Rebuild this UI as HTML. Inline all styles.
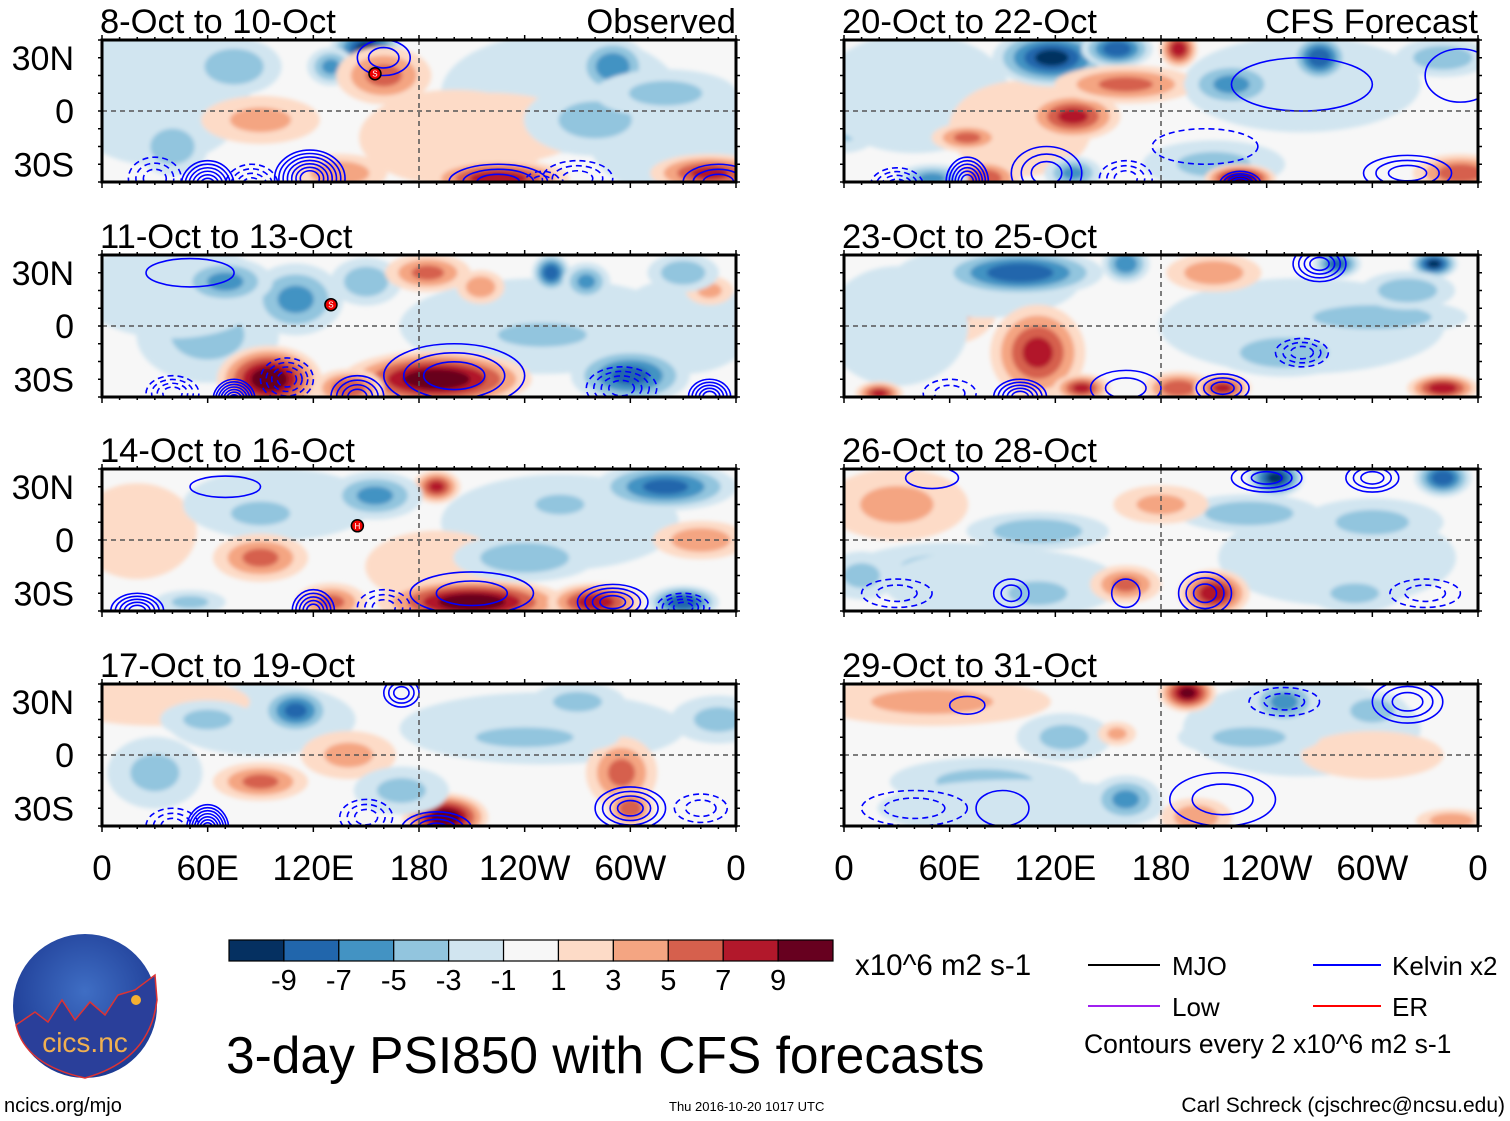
<!DOCTYPE html>
<html><head><meta charset="utf-8"><style>
html,body{margin:0;padding:0;background:#fff;}
svg{display:block;font-family:"Liberation Sans",Arial,sans-serif;}
</style></head><body>
<svg id="fig" width="1510" height="1121" viewBox="0 0 1510 1121">
<defs>
<filter id="bl" x="-20%" y="-20%" width="140%" height="140%"><feGaussianBlur stdDeviation="2"/></filter>
<radialGradient id="lg" cx="50%" cy="40%" r="60%"><stop offset="0" stop-color="#3f6ec4"/><stop offset="1" stop-color="#1d3a93"/></radialGradient>
</defs>
<g id="panels"></g>
<g id="colorbar"></g>
<text x="855" y="975" font-size="29.5">x10^6 m2 s-1</text>
<g>
<line x1="1088" y1="965" x2="1160" y2="965" stroke="#000" stroke-width="2"/>
<text x="1172" y="975" font-size="26">MJO</text>
<line x1="1313" y1="965" x2="1381" y2="965" stroke="#0000ff" stroke-width="2"/>
<text x="1392" y="975" font-size="26">Kelvin x2</text>
<line x1="1088" y1="1006" x2="1160" y2="1006" stroke="#a020f0" stroke-width="2"/>
<text x="1172" y="1016" font-size="26">Low</text>
<line x1="1313" y1="1006" x2="1381" y2="1006" stroke="#ff0000" stroke-width="2"/>
<text x="1392" y="1016" font-size="26">ER</text>
<text x="1084" y="1053" font-size="26.5">Contours every 2 x10^6 m2 s-1</text>
</g>
<text x="226" y="1073" font-size="51.5">3-day PSI850 with CFS forecasts</text>
<text x="4" y="1112" font-size="20">ncics.org/mjo</text>
<text x="669" y="1111" font-size="13">Thu 2016-10-20 1017 UTC</text>
<text x="1505" y="1112" font-size="21" text-anchor="end">Carl Schreck (cjschrec@ncsu.edu)</text>
<g>
<circle cx="85" cy="1006" r="72" fill="url(#lg)"/>
<path d="M16,1025 L35,1012 L48,1022 L62,1000 L75,1020 L90,1002 L105,1015 L118,995 L135,990 L155,975 L157,1000 Q150,1060 85,1078 Q25,1065 16,1025Z" fill="#2a3f9a" stroke="#d33" stroke-width="1.5"/>
<circle cx="136" cy="1000" r="5" fill="#f5b030"/>
<text x="85" y="1052" font-size="28" fill="#f0b050" text-anchor="middle">cics.nc</text>
</g>
</svg>
<script>
const panelTitles=["8-Oct to 10-Oct","11-Oct to 13-Oct","14-Oct to 16-Oct","17-Oct to 19-Oct","20-Oct to 22-Oct","23-Oct to 25-Oct","26-Oct to 28-Oct","29-Oct to 31-Oct"];
const lonTicks=[0,60,120,180,240,300,360];
const lonLabels=["0","60E","120E","180","120W","60W","0"];
const latTicks=[30,0,-30];
const latLabels=["30N","0","30S"];
const cbLevels=[-9,-7,-5,-3,-1,1,3,5,7,9];
const cbColors=["#053061","#2166ac","#4393c3","#92c5de","#d1e5f0","#f7f7f7","#fddbc7","#f4a582","#d6604d","#b2182b","#67001f"];
// anomaly centres: [lon, lat, value, lonSpread, latSpread]
const blobs0=[[30,10,-2,40,30],[260,10,-2,50,25],[330,-15,-2,40,25],[200,-15,2,40,20],[20,0,-2,30,20],[150,35,-9,15,10],[75,25,-4,20,12],[290,25,-6,15,12],[130,25,-5,10,8],[160,20,5,20,12],[90,-5,3,25,10],[40,-20,-4,15,12],[220,-10,2,40,15],[225,-38,8,30,8],[345,-35,7,25,8],[280,-5,-3,30,15],[320,10,-3,30,10],[135,-35,4,20,8]];
const blobs1=[[60,-5,-3,30,20],[40,20,-2,40,20],[250,0,-2,60,20],[330,0,-2,30,20],[95,-30,10,22,14],[190,-30,10,40,12],[140,-35,6,15,8],[110,15,-5,20,15],[70,25,-5,20,10],[150,25,-4,15,10],[185,30,5,18,8],[215,22,4,10,7],[255,30,-8,8,8],[275,25,-5,10,8],[345,20,3,10,6],[300,-28,-7,25,12],[250,-5,-4,30,8],[330,30,-4,15,8]];
const blobs2=[[20,5,2,25,20],[100,20,-2,40,15],[260,10,-2,50,20],[190,-15,2,30,15],[190,30,7,10,7],[155,25,-5,20,10],[90,-10,5,20,10],[90,15,-4,20,8],[210,-35,10,40,10],[280,-35,8,20,8],[130,-35,5,15,8],[330,-35,-8,15,7],[320,30,-7,30,10],[240,-10,-4,30,10],[340,0,4,20,8],[260,20,-3,20,8],[50,-35,-3,15,5]];
const blobs3=[[30,-10,-3,20,15],[90,20,-2,40,15],[250,15,-2,60,15],[30,30,2,40,10],[110,25,-7,15,10],[90,-15,5,20,8],[195,-35,10,18,10],[295,-10,5,15,15],[300,-30,6,10,8],[140,0,3,20,10],[240,10,-3,40,8],[350,20,-3,20,10],[60,20,-3,20,8],[170,-20,-3,20,10],[270,30,-3,20,8]];
const blobs4=[[0,-10,-3,15,10],[40,10,-2,40,25],[260,15,-2,50,20],[100,-10,2,30,20],[118,30,-9,25,12],[155,35,-8,15,8],[130,-3,7,20,10],[160,15,5,30,8],[70,-15,5,15,6],[190,35,8,8,8],[270,30,-8,12,10],[220,15,-5,20,10],[210,-30,-3,30,10],[225,-38,10,15,6],[130,-35,-5,12,7],[80,-38,6,15,8],[50,-38,-5,15,6],[350,-35,6,20,8],[340,30,-4,20,8]];
const blobs5=[[60,10,3,20,15],[30,0,-2,30,25],[80,25,-2,40,15],[260,0,-2,60,20],[100,30,-8,35,10],[160,35,-6,10,8],[110,-15,7,20,20],[135,-35,7,12,6],[190,-35,6,15,7],[215,-35,7,12,6],[280,35,-7,10,6],[335,35,-9,10,6],[300,5,-4,40,8],[250,-15,-4,30,10],[340,-35,8,15,6],[20,-38,7,10,5],[210,30,4,20,8],[320,20,-4,20,8]];
const blobs6=[[30,20,3,30,15],[60,-15,-3,40,10],[90,-25,-2,50,15],[280,-10,-2,50,20],[245,35,-9,12,8],[340,35,-8,12,8],[210,-30,8,15,10],[160,-25,5,15,8],[230,15,-4,30,8],[110,5,-4,30,8],[110,-30,-4,20,8],[300,10,-3,30,10],[180,20,3,20,8],[290,-30,-3,20,8],[10,-20,-3,15,10]];
const blobs7=[[50,30,3,50,10],[80,-15,-3,40,10],[100,-30,-2,60,12],[260,15,-2,50,20],[195,35,9,12,8],[250,30,-5,15,10],[300,25,-4,15,8],[160,-25,-5,15,10],[125,10,-3,20,10],[155,12,3,8,5],[200,-35,4,15,8],[345,-37,4,15,5],[300,0,2,30,10],[230,10,-3,30,8]];
const allBlobs=[blobs0,blobs1,blobs2,blobs3,blobs4,blobs5,blobs6,blobs7];
// Kelvin contours: [lon, lat, rings, dashed, lonRadius, latRadius]
const kel0=[[118,-38,7,0,20,16],[60,-42,6,0,15,14],[85,-42,4,1,15,12],[30,-38,3,1,15,12],[225,-40,3,0,28,10],[350,-40,3,0,20,10],[270,-38,3,1,20,10],[160,30,2,0,15,10],[250,-40,2,1,10,6]];
const kel1=[[75,-42,7,0,12,12],[145,-40,4,0,15,12],[200,-28,3,0,40,18],[295,-35,4,1,20,12],[345,-40,5,0,12,10],[40,-38,4,1,15,10],[105,-30,4,1,15,12],[50,30,1,0,25,8]];
const kel2=[[20,-40,5,0,15,10],[120,-40,5,0,12,12],[210,-30,2,0,35,12],[290,-35,4,0,20,10],[330,-38,4,1,15,8],[160,-38,3,1,15,10],[70,30,1,0,20,6]];
const kel3=[[60,-42,7,0,12,14],[190,-42,4,0,20,10],[300,-30,4,0,20,12],[150,-35,3,1,15,10],[40,-40,3,1,15,10],[170,35,3,0,10,8],[340,-30,2,1,15,8]];
const kel4=[[70,-40,6,0,12,14],[30,-42,4,1,15,10],[115,-35,3,0,20,15],[160,-38,3,1,15,10],[225,-42,5,0,12,8],[205,-20,1,1,30,10],[320,-35,3,0,25,10],[350,20,1,0,20,15],[260,15,1,0,40,15]];
const kel5=[[100,-40,5,0,15,10],[160,-35,2,0,20,10],[215,-35,3,0,15,8],[260,-15,3,1,15,8],[270,35,4,0,15,10],[60,-38,2,1,15,8]];
const kel6=[[205,-30,3,0,15,12],[95,-30,2,0,10,8],[160,-30,1,0,8,8],[240,35,3,0,20,8],[300,35,3,0,15,8],[330,-30,2,1,20,8],[30,-30,2,1,20,8],[50,35,1,0,15,6]];
const kel7=[[90,-30,1,0,15,10],[40,-30,2,1,30,10],[215,-25,2,0,30,15],[320,30,3,0,20,12],[250,30,2,1,20,8],[70,28,1,0,10,5]];
const allKel=[kel0,kel1,kel2,kel3,kel4,kel5,kel6,kel7];
// tropical cyclone symbols: [panel, lon, lat, label]
const storms=[[0,155,21,"S"],[1,130,12,"S"],[2,145,8,"H"]];

const NS="http://www.w3.org/2000/svg";
const panelsG=document.getElementById('panels');
const colX=[102,844], rowY=[40,255,469,684], PW=634, PH=142;
function mk(tag,attrs,parent){const e=document.createElementNS(NS,tag);for(const k in attrs)e.setAttribute(k,attrs[k]);parent.appendChild(e);return e;}
function colorFor(v){let i=0;while(i<cbLevels.length&&v>cbLevels[i])i++;return cbColors[i];}

for(let p=0;p<8;p++){
  const x0=colX[p<4?0:1], y0=rowY[p%4];
  const xs=lon=>x0+lon/360*PW;
  const ys=lat=>y0+PH/2-lat*(PH/2)/40;
  const sx=PW/360*1.35, sy=(PH/2)/40*1.35;
  const g=mk('g',{},panelsG);
  
  
  const cp=mk('clipPath',{id:'cp'+p},g);
  mk('rect',{x:x0,y:y0,width:PW,height:PH},cp);
  mk('rect',{x:x0,y:y0,width:PW,height:PH,fill:'#f7f7f7'},g);
  const fg=mk('g',{'clip-path':'url(#cp'+p+')'},g);
  const sh=mk('g',{filter:'url(#bl)'},fg);
  allBlobs[p].forEach(b=>{
    const [lon,lat,v,rl,rt]=b;const a=Math.abs(v),s=Math.sign(v);
    for(let t=1;t<=a;t+=2){
      const rr=1-(t-1)/(a+0.5)*0.85;
      const e=mk('ellipse',{cx:xs(lon),cy:ys(lat),rx:rl*sx*rr,ry:rt*sy*rr,fill:colorFor(s*(t+0.5))},sh);
      
      
    }
  });
  allKel[p].forEach(k=>{
    const [lon,lat,n,d,rl,rt]=k;
    const kx=PW/360, ky=(PH/2)/40;
    for(let i=0;i<n;i++){
      const f=1-i/n*0.85;
      const e=mk('ellipse',{cx:xs(lon),cy:ys(lat),rx:rl*kx*f,ry:rt*ky*f,fill:'none',stroke:'#0000ff','stroke-width':1.6},fg);
      if(d)e.setAttribute('stroke-dasharray','6,4');
      
      
    }
  });
  mk('line',{x1:x0,x2:x0+PW,y1:ys(0),y2:ys(0),stroke:'#555','stroke-width':1.5,'stroke-dasharray':'5,4'},g);
  mk('line',{x1:xs(180),x2:xs(180),y1:y0,y2:y0+PH,stroke:'#555','stroke-width':1.5,'stroke-dasharray':'5,4'},g);
  storms.filter(s=>s[0]===p).forEach(s=>{
    const c=mk('circle',{cx:xs(s[1]),cy:ys(s[2]),r:6,fill:'#e00',stroke:'#000','stroke-width':1.5},g);
    
    
    mk('text',{x:xs(s[1]),y:ys(s[2])+3,'font-size':8,fill:'#fff','text-anchor':'middle'},g).textContent=s[3];
  });
  for(let l=0;l<=360;l+=10){const big=l%60===0;
    mk('line',{x1:xs(l),x2:xs(l),y1:y0,y2:y0-(big?5:3),stroke:'#000','stroke-width':1.5},g);
    mk('line',{x1:xs(l),x2:xs(l),y1:y0+PH,y2:y0+PH+(big?6:3),stroke:'#000','stroke-width':1.5},g);}
  for(let la=-40;la<=40;la+=10){mk('line',{x1:x0-4,x2:x0,y1:ys(la),y2:ys(la),stroke:'#000','stroke-width':1.5},g);mk('line',{x1:x0+PW,x2:x0+PW+4,y1:ys(la),y2:ys(la),stroke:'#000','stroke-width':1.5},g);}
  mk('rect',{x:x0,y:y0,width:PW,height:PH,fill:'none',stroke:'#000','stroke-width':3},g);
  const t=mk('text',{x:x0-2,y:y0-7,'font-size':34.5},g);t.textContent=panelTitles[p];
  
  
  if(p%4===0){const r=mk('text',{x:x0+PW,y:y0-7,'font-size':34.5,'text-anchor':'end'},g);r.textContent=p===0?'Observed':'CFS Forecast';
    
    }
  if(p<4){latTicks.forEach((la,i)=>{const l=mk('text',{x:74,y:ys(la)+12,'font-size':34,'text-anchor':'end'},g);l.textContent=latLabels[i];
    
    });}
  if(p%4===3){lonTicks.forEach((lo,i)=>{const l=mk('text',{x:xs(lo),y:880,'font-size':35,'text-anchor':'middle'},g);l.textContent=lonLabels[i];
    
    });}
}
const cb=document.getElementById('colorbar');
const cbx=229,cbw=604,cby=940,cbh=21,bw=cbw/cbColors.length;
cbColors.forEach((c,i)=>{const r=mk('rect',{x:cbx+i*bw,y:cby,width:bw,height:cbh,fill:c,stroke:'#000','stroke-width':1.2},cb);
  
  });
cbLevels.forEach((v,i)=>{const t=mk('text',{x:cbx+(i+1)*bw,y:990,'font-size':29,'text-anchor':'middle'},cb);t.textContent=v;
  
  });
</script>
</body></html>
